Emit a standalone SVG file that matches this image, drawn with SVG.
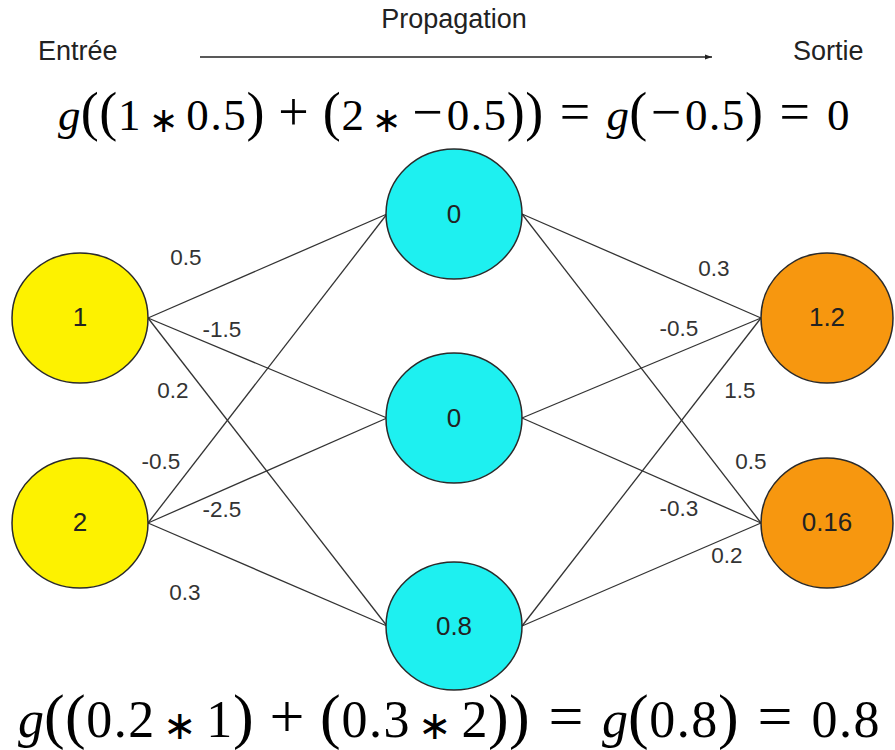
<svg xmlns="http://www.w3.org/2000/svg" width="895" height="750" viewBox="0 0 895 750">
<style>
.node{stroke:#2a2a2a;stroke-width:1.5}
.in{fill:#fdf200}
.hid{fill:#1ef0f0}
.out{fill:#f7970f}
.nl{font-family:"Liberation Sans",Arial,sans-serif;font-size:26px;fill:#222;text-anchor:middle;dominant-baseline:central}
.wl{font-family:"Liberation Sans",Arial,sans-serif;font-size:22.5px;fill:#333;text-anchor:middle;dominant-baseline:central}
.hd{font-family:"Liberation Sans",Arial,sans-serif;font-size:27px;fill:#222}
.eq{font-family:"Liberation Serif","Times New Roman",serif;fill:#000;text-anchor:middle}
.it{font-style:italic}
.c{stroke:#333;stroke-width:1.3;fill:none}
</style>
<defs>
<marker id="ah" markerWidth="8" markerHeight="6" refX="7" refY="3" orient="auto" markerUnits="userSpaceOnUse">
<path d="M0,0.5 L7,3 L0,5.5 Z" fill="#222"/>
</marker>
</defs>
<rect width="895" height="750" fill="#fff"/>
<g id="header">
<text class="hd" x="38" y="60">Entrée</text>
<text class="hd" x="454" y="28" text-anchor="middle">Propagation</text>
<text class="hd" x="793" y="60">Sortie</text>
<line x1="200" y1="57" x2="712" y2="57" stroke="#222" stroke-width="1.3" marker-end="url(#ah)"/>
</g>
<g id="connectors">
<line class="c" x1="148" y1="318" x2="387" y2="214"/>
<line class="c" x1="148" y1="318" x2="387" y2="418"/>
<line class="c" x1="148" y1="318" x2="387" y2="626"/>
<line class="c" x1="148" y1="523" x2="387" y2="214"/>
<line class="c" x1="148" y1="523" x2="387" y2="418"/>
<line class="c" x1="148" y1="523" x2="387" y2="626"/>
<line class="c" x1="522" y1="214" x2="761" y2="318"/>
<line class="c" x1="522" y1="214" x2="761" y2="523"/>
<line class="c" x1="522" y1="418" x2="761" y2="318"/>
<line class="c" x1="522" y1="418" x2="761" y2="523"/>
<line class="c" x1="522" y1="626" x2="761" y2="318"/>
<line class="c" x1="522" y1="626" x2="761" y2="523"/>
</g>
<g id="weights">
<text class="wl" x="186" y="257">0.5</text>
<text class="wl" x="222" y="329">-1.5</text>
<text class="wl" x="173" y="390">0.2</text>
<text class="wl" x="161" y="461">-0.5</text>
<text class="wl" x="222" y="509">-2.5</text>
<text class="wl" x="185" y="592">0.3</text>
<text class="wl" x="714" y="268">0.3</text>
<text class="wl" x="679" y="328">-0.5</text>
<text class="wl" x="740" y="390">1.5</text>
<text class="wl" x="751" y="461">0.5</text>
<text class="wl" x="679" y="508">-0.3</text>
<text class="wl" x="727" y="555">0.2</text>
</g>
<g id="in1"><ellipse class="node in" cx="80" cy="318" rx="68" ry="65"/><text class="nl" x="80" y="317">1</text></g>
<g id="in2"><ellipse class="node in" cx="80" cy="523" rx="68" ry="65"/><text class="nl" x="80" y="522">2</text></g>
<g id="h1"><ellipse class="node hid" cx="454" cy="214" rx="68" ry="65"/><text class="nl" x="454" y="214">0</text></g>
<g id="h2"><ellipse class="node hid" cx="454" cy="418" rx="68" ry="65"/><text class="nl" x="454" y="418">0</text></g>
<g id="h3"><ellipse class="node hid" cx="454" cy="626" rx="68" ry="64"/><text class="nl" x="454" y="626">0.8</text></g>
<g id="o1"><ellipse class="node out" cx="827" cy="318" rx="66" ry="65"/><text class="nl" x="827" y="317">1.2</text></g>
<g id="o2"><ellipse class="node out" cx="827" cy="523" rx="66" ry="65"/><text class="nl" x="827" y="522">0.16</text></g>
<g id="formula-top">
<text class="eq" y="130" font-size="45"><tspan class="it" x="69.3">g</tspan><tspan font-size="54" x="89.8 108.2">((</tspan><tspan x="129.2">1</tspan><tspan x="197.6 216.0 234.4">0.5</tspan><tspan font-size="54" x="255.4">)</tspan><tspan font-size="54" x="293.6">+</tspan><tspan font-size="54" x="331.7">(</tspan><tspan x="352.7">2</tspan><tspan font-size="54" x="427.6">−</tspan><tspan x="457.9 476.3 494.7">0.5</tspan><tspan font-size="54" x="515.8 534.2">))</tspan><tspan font-size="54" x="574.9">=</tspan><tspan class="it" x="617.8">g</tspan><tspan font-size="54" x="638.3">(</tspan><tspan font-size="54" x="665.9">−</tspan><tspan x="696.2 714.6 733.0">0.5</tspan><tspan font-size="54" x="754.0">)</tspan><tspan font-size="54" x="794.8">=</tspan><tspan x="838.2">0</tspan></text>
<text class="eq" y="132" font-family="DejaVu Sans" font-size="35"><tspan x="163.4">∗</tspan><tspan x="386.9">∗</tspan></text>
</g>
<g id="formula-bottom">
<text class="eq" y="737" font-size="52"><tspan class="it" x="30.9">g</tspan><tspan font-size="62" x="54.3 75.3">((</tspan><tspan x="99.3 120.3 141.3">0.2</tspan><tspan x="219.3">1</tspan><tspan font-size="62" x="243.3">)</tspan><tspan font-size="62" x="286.9">+</tspan><tspan font-size="62" x="330.4">(</tspan><tspan x="354.4 375.4 396.4">0.3</tspan><tspan x="474.4">2</tspan><tspan font-size="62" x="498.4 519.4">))</tspan><tspan font-size="62" x="566.0">=</tspan><tspan class="it" x="614.9">g</tspan><tspan font-size="62" x="638.3">(</tspan><tspan x="662.3 683.3 704.3">0.8</tspan><tspan font-size="62" x="728.3">)</tspan><tspan font-size="62" x="774.9">=</tspan><tspan x="824.4 845.4 866.4">0.8</tspan></text>
<text class="eq" y="739" font-family="DejaVu Sans" font-size="40"><tspan x="180.3">∗</tspan><tspan x="435.4">∗</tspan></text>
</g>
</svg>
